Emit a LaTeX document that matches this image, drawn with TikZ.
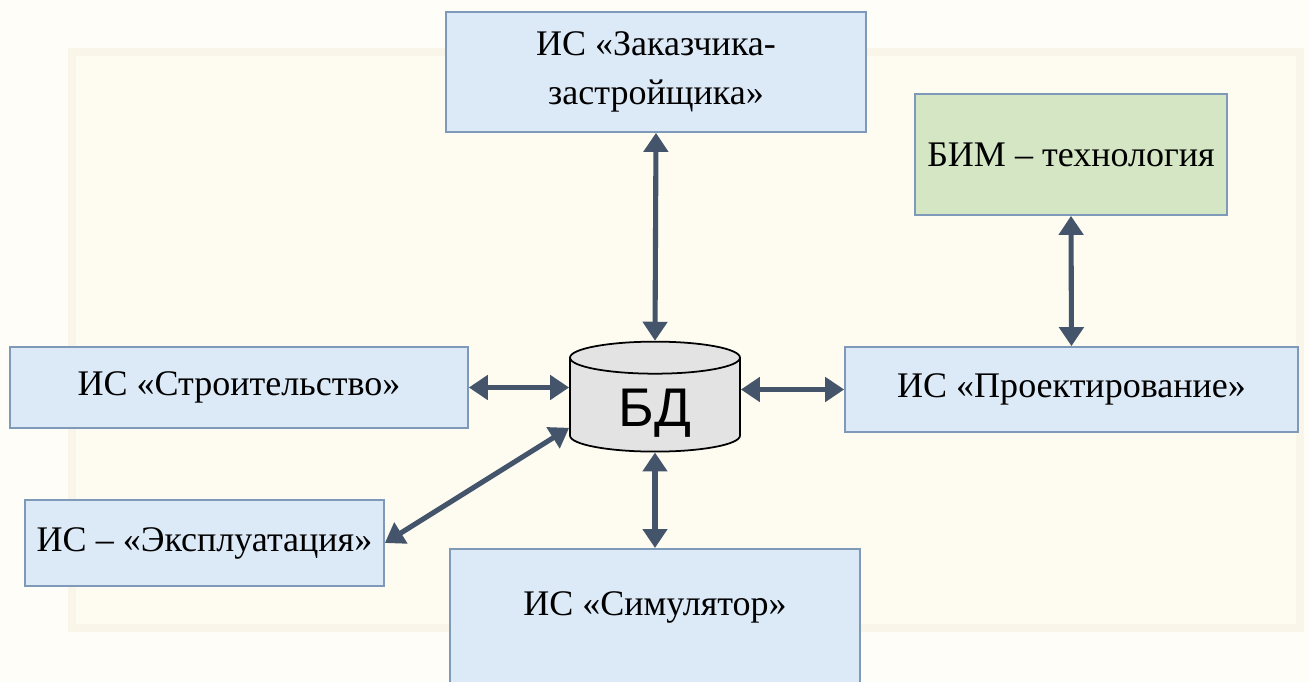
\documentclass[tikz,border=0pt]{standalone}
\usepackage{fontspec}
\setmainfont{Liberation Serif}
\newfontfamily\bdfont{Liberation Sans}
\usetikzlibrary{shapes.geometric,arrows.meta}

\definecolor{paper}{HTML}{FFFDF8}
\definecolor{panel}{HTML}{FEFBF1}
\definecolor{panelrim}{HTML}{FAF5E9}
\definecolor{boxblue}{HTML}{DCE9F6}
\definecolor{boxgreen}{HTML}{D4E6C4}
\definecolor{boxline}{HTML}{7E9AB8}
\definecolor{arrowcol}{HTML}{44546A}
\definecolor{dbgray}{HTML}{E3E3E3}

\tikzset{
  isbox/.style={draw=boxline, fill=boxblue, line width=1pt, rectangle, align=center,
    font=\fontsize{20.5}{28}\selectfont},
  bimbox/.style={isbox, fill=boxgreen},
  link/.style={draw=arrowcol, line width=2.9pt,
    {Triangle[width=0.48cm,length=0.38cm]}-{Triangle[width=0.48cm,length=0.38cm]}}
}

\begin{document}
\begin{tikzpicture}[x=0.02cm, y=-0.02cm]
			% background
			\fill[paper] (0,0) rectangle (1309,682);
			\useasboundingbox (0,0) rectangle (1309,682);
			\fill[panel, draw=panelrim, line width=4pt] (72,52) rectangle (1300,628);

			% Database in the middle
			\node[cylinder, shape border rotate=90, aspect=0.38, draw, fill=dbgray, line width=1pt,
			  minimum width=3.4cm, minimum height=2.2cm, font=\bdfont\fontsize{31}{36}\selectfont,
			  text depth=0pt] (bd) at (655,408) {БД};

			% Information systems
			\node[isbox, minimum width=8.4cm, minimum height=2.4cm] (zak) at (656,72) {ИС «Заказчика-\\застройщика»};
			\node[bimbox, minimum width=6.24cm, minimum height=2.42cm] (bim) at (1071,154.5) {БИМ – технология};
			\node[isbox, minimum width=9.06cm, minimum height=1.7cm] (proj) at (1071.5,389.5) {ИС «Проектирование»};
			\node[isbox, minimum width=9.16cm, minimum height=1.62cm] (stroi) at (239,387.5) {ИС «Строительство»};
			\node[isbox, minimum width=7.18cm, minimum height=1.72cm] (expl) at (204.5,543) {ИС – «Эксплуатация»};
			\node[isbox, minimum width=8.2cm, minimum height=2.9cm, anchor=north] (sim) at (655,548) {};
			\node[font=\fontsize{20.5}{28}\selectfont] (simtext) at (655,607) {ИС «Симулятор»};

			% Links
			\draw[link] (zak.south) -- (bd.north);
			\draw[link] (bim.south) -- (proj.north);
			\draw[link] (stroi.east) -- (bd.west |- stroi.east);
			\draw[link] (bd.east |- proj.west) -- (proj.west);
			\draw[link] (bd.south) -- (sim.north);
			\draw[link] (bd.193) -- (expl.east);
\end{tikzpicture}
\end{document}
